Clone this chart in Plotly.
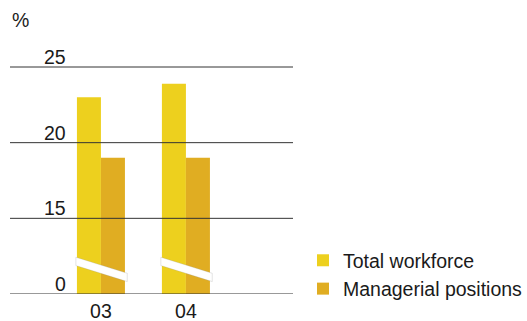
import plotly.graph_objects as go

categories = ["03", "04"]
total_workforce = [23.0, 23.9]
managerial_positions = [19.0, 19.0]
series_names = ["Total workforce", "Managerial positions"]
tick_values = [10, 15, 20, 25]
tick_labels = ["0", "15", "20", "25"]
colors = ["#EDD01E", "#E0AD22"]

W, H = 527, 321
ML, MR, MT, MB = 10, W - 293, 59, 27
PW, PH = W - ML - MR, H - MT - MB
Y0, Y1 = 10, 10 + PH / (227 / 15)
XR = [-1.07, 2.26]
FS = 19.5

fig = go.Figure()
for name, vals, col in zip(series_names, [total_workforce, managerial_positions], colors):
    fig.add_trace(go.Bar(x=categories, y=vals, name=name, marker=dict(color=col, line=dict(width=0))))

shapes = []
for v in tick_values:
    shapes.append(dict(type="line", xref="paper", yref="y", x0=0, x1=1, y0=v, y1=v,
                       line=dict(color="#333333", width=1), layer="above"))
# axis break bands
for i in range(len(categories)):
    xl, xr = i - 0.295, i + 0.31
    path = f"M{xl},12.43 L{xr},11.37 L{xr},10.82 L{xl},11.88 Z"
    shapes.append(dict(type="path", xref="x", yref="y", path=path,
                       fillcolor="white", line=dict(color="rgba(150,150,150,0.5)", width=0.5), layer="above"))

annotations = []
for v, t in zip(tick_values, tick_labels):
    annotations.append(dict(x=(68 - ML) / PW, xref="paper", y=v, yref="y",
                            text=t, showarrow=False, xanchor="right", yanchor="bottom",
                            yshift=-3, font=dict(size=FS, color="#1a1a1a")))
annotations.append(dict(x=0, xref="paper", y=1 + (MT - 20) / PH, yref="paper",
                        text="%", showarrow=False, xanchor="left", yanchor="middle",
                        font=dict(size=FS, color="#1a1a1a")))
annotations.append(dict(x=0, xref="paper", y=1 + (MT - 4) / PH, yref="paper",
                        text="<b>Share of women</b>", showarrow=False, xanchor="left", yanchor="bottom",
                        font=dict(size=20, color="#a8bde3")))

fig.update_layout(
    width=W, height=H,
    margin=dict(l=ML, r=MR, t=MT, b=MB, pad=0, autoexpand=False),
    paper_bgcolor="white", plot_bgcolor="white",
    barmode="group", bargap=0.435, bargroupgap=0,
    font=dict(family="Liberation Sans, Arial, sans-serif", size=FS, color="#1a1a1a"),
    xaxis=dict(type="category", range=XR, showgrid=False, showline=False, zeroline=False,
               ticks="", tickfont=dict(size=FS), automargin=False, ticklabelstandoff=3),
    yaxis=dict(range=[Y0, Y1], showgrid=False, showticklabels=False, zeroline=False, showline=False,
               automargin=False),
    legend=dict(x=(303 - ML) / PW, xanchor="left", y=-0.06, yanchor="bottom",
                font=dict(size=FS), bgcolor="rgba(0,0,0,0)", traceorder="normal"),
    shapes=shapes, annotations=annotations,
)
fig.write_html("out.html", config={"displayModeBar": False},
               post_script="document.documentElement.style.margin='0';document.body.style.margin='0';document.body.style.overflow='hidden';")
